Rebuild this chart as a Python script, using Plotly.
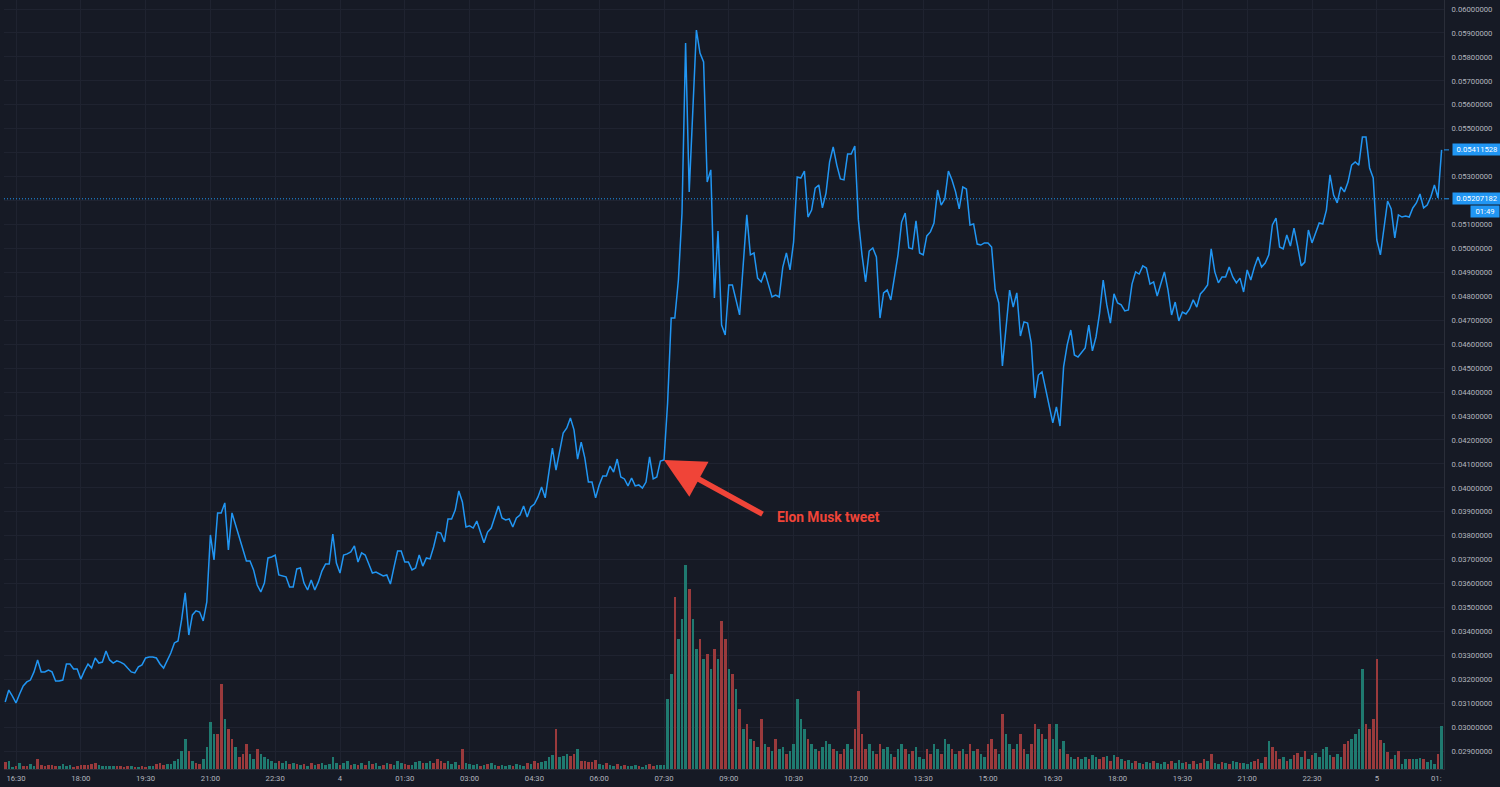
import pandas as pd
import plotly.graph_objects as go

# ---- data -------------------------------------------------------------
start_time = "2021-02-03 16:15"
bar_minutes = 5

close = [
    0.03105, 0.03155, 0.03130, 0.03101, 0.03139, 0.03172, 0.03189, 0.03197, 0.03231, 0.03281,
    0.03231, 0.03231, 0.03239, 0.03231, 0.03193, 0.03193, 0.03197, 0.03264, 0.03264, 0.03243,
    0.03243, 0.03201, 0.03235, 0.03264, 0.03247, 0.03289, 0.03268, 0.03272, 0.03318, 0.03281,
    0.03268, 0.03277, 0.03272, 0.03264, 0.03247, 0.03231, 0.03227, 0.03252, 0.03260, 0.03289,
    0.03293, 0.03293, 0.03289, 0.03264, 0.03247, 0.03281, 0.03310, 0.03352, 0.03360, 0.03448,
    0.03561, 0.03385, 0.03469, 0.03486, 0.03481, 0.03444, 0.03523, 0.03803, 0.03699, 0.03895,
    0.03895, 0.03937, 0.03740, 0.03895, 0.03845, 0.03799, 0.03753, 0.03694, 0.03694, 0.03657,
    0.03594, 0.03565, 0.03602, 0.03707, 0.03711, 0.03719, 0.03636, 0.03632, 0.03628, 0.03586,
    0.03586, 0.03661, 0.03665, 0.03602, 0.03573, 0.03615, 0.03573, 0.03607, 0.03653, 0.03682,
    0.03682, 0.03807, 0.03686, 0.03644, 0.03719, 0.03724, 0.03732, 0.03757, 0.03690, 0.03728,
    0.03719, 0.03682, 0.03644, 0.03648, 0.03640, 0.03632, 0.03636, 0.03598, 0.03669, 0.03736,
    0.03736, 0.03690, 0.03690, 0.03657, 0.03665, 0.03719, 0.03673, 0.03707, 0.03703, 0.03753,
    0.03815, 0.03811, 0.03774, 0.03870, 0.03870, 0.03907, 0.03987, 0.03941, 0.03836, 0.03841,
    0.03832, 0.03861, 0.03815, 0.03770, 0.03815, 0.03832, 0.03878, 0.03924, 0.03874, 0.03866,
    0.03870, 0.03836, 0.03874, 0.03886, 0.03924, 0.03878, 0.03920, 0.03932, 0.03962, 0.04003,
    0.03958, 0.04074, 0.04166, 0.04074, 0.04150, 0.04229, 0.04250, 0.04292, 0.04242, 0.04120,
    0.04191, 0.04125, 0.04024, 0.04024, 0.03958, 0.04012, 0.04049, 0.04049, 0.04091, 0.04066,
    0.04120, 0.04045, 0.04037, 0.04008, 0.04041, 0.04008, 0.04012, 0.03999, 0.04024, 0.04129,
    0.04037, 0.04045, 0.04112, 0.04116, 0.04354, 0.04709, 0.04709, 0.04868, 0.05148, 0.05858,
    0.05236, 0.05566, 0.05912, 0.05816, 0.05779, 0.05277, 0.05328, 0.04793, 0.05073, 0.04680,
    0.04638, 0.04847, 0.04847, 0.04785, 0.04722, 0.04931, 0.05140, 0.04973, 0.04981, 0.04876,
    0.04860, 0.04902, 0.04847, 0.04797, 0.04805, 0.04797, 0.04922, 0.04981, 0.04910, 0.05027,
    0.05298, 0.05294, 0.05323, 0.05131, 0.05160, 0.05252, 0.05265, 0.05169, 0.05231, 0.05361,
    0.05424, 0.05348, 0.05290, 0.05286, 0.05394, 0.05394, 0.05428, 0.05119, 0.04973, 0.04860,
    0.04989, 0.05002, 0.04964, 0.04709, 0.04814, 0.04826, 0.04785, 0.04889, 0.04973, 0.05110,
    0.05148, 0.05002, 0.04998, 0.05115, 0.04981, 0.04973, 0.05052, 0.05069, 0.05106, 0.05244,
    0.05181, 0.05206, 0.05323, 0.05286, 0.05236, 0.05165, 0.05257, 0.05248, 0.05098, 0.05102,
    0.05018, 0.05014, 0.05023, 0.05023, 0.05006, 0.04826, 0.04772, 0.04509, 0.04672, 0.04826,
    0.04755, 0.04814, 0.04634, 0.04693, 0.04688, 0.04605, 0.04375, 0.04471, 0.04484, 0.04417,
    0.04346, 0.04271, 0.04338, 0.04258, 0.04505, 0.04597, 0.04659, 0.04555, 0.04546, 0.04567,
    0.04584, 0.04680, 0.04572, 0.04630, 0.04730, 0.04868, 0.04764, 0.04688, 0.04810, 0.04772,
    0.04764, 0.04739, 0.04743, 0.04851, 0.04902, 0.04893, 0.04927, 0.04918, 0.04851, 0.04860,
    0.04801, 0.04851, 0.04902, 0.04826, 0.04722, 0.04776, 0.04697, 0.04734, 0.04726, 0.04747,
    0.04785, 0.04755, 0.04810, 0.04826, 0.04847, 0.04998, 0.04902, 0.04856, 0.04881, 0.04881,
    0.04922, 0.04881, 0.04856, 0.04876, 0.04818, 0.04910, 0.04868, 0.04922, 0.04964, 0.04922,
    0.04939, 0.04973, 0.05098, 0.05127, 0.05006, 0.04998, 0.05056, 0.05010, 0.05085, 0.05010,
    0.04927, 0.04943, 0.05077, 0.05023, 0.05064, 0.05106, 0.05102, 0.05160, 0.05307, 0.05223,
    0.05190, 0.05257, 0.05236, 0.05277, 0.05348, 0.05361, 0.05348, 0.05465, 0.05465, 0.05336,
    0.05294, 0.05035, 0.04973, 0.05085, 0.05198, 0.05165, 0.05044, 0.05140, 0.05131, 0.05135,
    0.05131, 0.05169, 0.05190, 0.05227, 0.05169, 0.05181, 0.05215, 0.05265, 0.05211, 0.05411528,
]

# volume per 5-minute bar (estimated, arbitrary units) and bar direction (g = up, r = down)
volume = [
    7, 8, 2, 3, 6, 3, 3, 5, 3, 10,
    4, 3, 4, 4, 3, 3, 5, 3, 4, 2,
    3, 4, 4, 4, 5, 6, 4, 3, 3, 3,
    3, 3, 3, 2, 3, 3, 2, 2, 3, 2,
    3, 3, 5, 6, 4, 5, 5, 8, 10, 18,
    30, 18, 8, 6, 5, 10, 22, 47, 35, 35,
    85, 50, 40, 30, 22, 12, 15, 25, 15, 10,
    20, 15, 12, 10, 8, 6, 8, 6, 8, 5,
    6, 5, 4, 5, 3, 6, 4, 5, 6, 4,
    5, 12, 6, 4, 6, 8, 4, 5, 4, 6,
    4, 8, 5, 6, 3, 4, 6, 5, 4, 8,
    6, 5, 4, 4, 7, 8, 6, 6, 8, 6,
    10, 8, 6, 8, 5, 7, 4, 20, 6, 5,
    4, 5, 3, 4, 5, 6, 4, 3, 4, 3,
    4, 3, 5, 4, 3, 6, 5, 8, 6, 7,
    8, 12, 14, 40, 12, 13, 15, 13, 15, 20,
    8, 8, 7, 7, 9, 5, 4, 6, 4, 3,
    5, 3, 4, 3, 3, 4, 3, 2, 4, 5,
    3, 4, 4, 4, 70, 95, 172, 130, 150, 204,
    180, 150, 120, 130, 110, 115, 100, 120, 110, 148,
    130, 100, 95, 80, 60, 40, 45, 30, 28, 22,
    50, 25, 22, 18, 30, 20, 22, 15, 18, 25,
    70, 50, 40, 30, 25, 20, 18, 22, 28, 25,
    20, 18, 15, 20, 25, 20, 40, 78, 35, 20,
    25, 18, 15, 25, 20, 22, 15, 12, 20, 25,
    20, 15, 18, 22, 12, 10, 20, 15, 25, 20,
    15, 30, 25, 20, 15, 18, 20, 15, 25, 18,
    20, 15, 12, 25, 30, 20, 15, 55, 35, 25,
    20, 25, 35, 20, 15, 25, 45, 40, 35, 30,
    45, 30, 45, 20, 28, 15, 12, 10, 12, 10,
    12, 10, 14, 12, 10, 12, 13, 8, 14, 12,
    10, 8, 9, 6, 8, 6, 5, 7, 6, 8,
    6, 5, 7, 5, 8, 6, 9, 6, 7, 5,
    8, 5, 6, 10, 8, 15, 6, 5, 7, 6,
    5, 8, 7, 6, 6, 5, 7, 8, 10, 6,
    12, 28, 22, 18, 10, 12, 8, 10, 14, 16,
    12, 18, 10, 14, 16, 12, 20, 22, 14, 12,
    15, 12, 25, 28, 30, 35, 40, 100, 45, 40,
    50, 110, 29, 26, 17, 10, 14, 18, 5, 10,
    10, 10, 10, 11, 10, 7, 9, 5, 15, 43,
]
direction = (
    "rggrgrrggr" "rrrrrggggr" "rrrrrrgggg" "grrrrgrgrr" "ggrrrggggg"
    "grgrrggggr" "rgrrgrrrgg" "rgggggrggr" "grgrgrgrgg" "gggrggrgrg"
    "rgrggrgrgg" "grrgggrggr" "rrrgggrrgg" "ggrgrggrgg" "grgggrgrrg"
    "gggrgggrrg" "rrrrrggrgg" "rgrgggrggr" "rgggggrggg" "rggrgrgrgr"
    "rgrgrgrgrg" "rgrgrggrgg" "gggrggrggg" "rgrrggrrrr" "ggrrgggrgg"
    "rgrgggrrgg" "rggrgrgrrg" "rggrrrgrgg" "rgrrgrrgrg" "rggrgrggrg"
    "grggrrgrgr" "grggrgrggr" "gggrrgggrg" "rgrrgrggrg" "rggrgggrrg"
    "rgrrrgrgrr" "grgrgggggr" "ggrrggggrr" "rrrgrrgrgg" "rgggrgggrg"
)

tick_times = [
    "2021-02-03 16:30", "2021-02-03 18:00", "2021-02-03 19:30", "2021-02-03 21:00",
    "2021-02-03 22:30", "2021-02-04 00:00", "2021-02-04 01:30", "2021-02-04 03:00",
    "2021-02-04 04:30", "2021-02-04 06:00", "2021-02-04 07:30", "2021-02-04 09:00",
    "2021-02-04 10:30", "2021-02-04 12:00", "2021-02-04 13:30", "2021-02-04 15:00",
    "2021-02-04 16:30", "2021-02-04 18:00", "2021-02-04 19:30", "2021-02-04 21:00",
    "2021-02-04 22:30", "2021-02-05 00:00",
]
tick_labels = [
    "16:30", "18:00", "19:30", "21:00", "22:30", "4", "01:30", "03:00", "04:30", "06:00",
    "07:30", "09:00", "10:30", "12:00", "13:30", "15:00", "16:30", "18:00", "19:30", "21:00",
    "22:30", "5",
]
price_ticks = [
    0.029, 0.030, 0.031, 0.032, 0.033, 0.034, 0.035, 0.036, 0.037, 0.038, 0.039,
    0.040, 0.041, 0.042, 0.043, 0.044, 0.045, 0.046, 0.047, 0.048, 0.049, 0.050,
    0.051, 0.052, 0.053, 0.054, 0.055, 0.056, 0.057, 0.058, 0.059, 0.060,
]
hidden_price_ticks = [0.052, 0.054]   # covered by the price markers

last_price = 0.05411528
ref_price = 0.05207182
countdown = "01:49"
tweet_bar = 183
tweet_label = "Elon Musk tweet"
last_time_label = "01:"

x_range = ["2021-02-03 16:13:20", "2021-02-05 01:33:20"]
y_range = [0.028254, 0.060376]

# ---- styling ------------------------------------------------------------
BG = "#161a25"
GRID = "#1f2330"
TXT = "#b2b5be"
BLUE = "#2196f3"
RED = "#f04438"
VOL_UP = "#1f7a70"
VOL_DOWN = "#9a3a3c"
FONT = "Roboto"
FS = 7.7

times = pd.date_range(start_time, periods=len(close), freq=f"{bar_minutes}min")
vol_colors = [VOL_UP if d == "g" else VOL_DOWN for d in direction]
price_text = ["" if p in hidden_price_ticks else f"{p:.8f}" for p in price_ticks]

fig = go.Figure()
fig.add_trace(go.Bar(
    x=times, y=volume, marker=dict(color=vol_colors, line=dict(width=0)),
    width=bar_minutes * 60 * 1000 * 0.72, yaxis="y2", hoverinfo="skip", showlegend=False,
))
fig.add_trace(go.Scatter(
    x=times, y=close, mode="lines",
    line=dict(color=BLUE, width=1.5), hoverinfo="skip", showlegend=False,
))

fig.update_layout(
    width=1500, height=787,
    margin=dict(l=4, r=56, t=0, b=18),
    paper_bgcolor=BG, plot_bgcolor=BG,
    font=dict(family=FONT, size=FS, color=TXT),
    showlegend=False, bargap=0,
    xaxis=dict(
        range=x_range, tickmode="array", tickvals=tick_times, ticktext=tick_labels,
        showgrid=True, gridcolor=GRID, gridwidth=1, zeroline=False,
        showline=True, linecolor="#2a2e39", linewidth=1, mirror=False,
        ticks="", tickfont=dict(size=FS, color=TXT), ticklabelstandoff=2,
    ),
    yaxis=dict(
        side="right", range=y_range, tickmode="array", tickvals=price_ticks,
        ticktext=price_text, showgrid=True, gridcolor=GRID, gridwidth=1, zeroline=False,
        showline=True, linecolor="#2a2e39", linewidth=1,
        ticks="", tickfont=dict(size=FS, color=TXT), ticklabelstandoff=5,
    ),
    yaxis2=dict(
        overlaying="y", side="left", range=[0, max(volume) * 769 / 204],
        visible=False, showgrid=False, zeroline=False,
    ),
)

# reference dotted price line
fig.add_shape(type="line", xref="paper", x0=0, x1=1, yref="y", y0=ref_price, y1=ref_price,
              line=dict(color=BLUE, width=1, dash="1px,2px"))

# price scale markers
for price in (last_price, ref_price):
    fig.add_shape(type="line", xref="paper", x0=1, x1=1 + 5 / 1440, yref="y", y0=price, y1=price,
                  line=dict(color=BLUE, width=1))
    fig.add_annotation(xref="paper", x=1, xshift=8, xanchor="left", yref="y", y=price,
                       text=f"{price:.8f}", showarrow=False, bgcolor=BLUE, borderpad=1, width=46,
                       font=dict(family=FONT, size=FS, color="#ffffff"))
fig.add_annotation(xref="paper", x=1, xshift=26, xanchor="left", yref="y", y=ref_price,
                   yshift=-13, text=countdown, showarrow=False, bgcolor=BLUE, borderpad=1,
                   width=26, font=dict(family=FONT, size=FS, color="#ffffff"))

# clipped last time label
fig.add_annotation(xref="paper", x=1, xanchor="right", yref="paper", y=0, yanchor="top",
                   yshift=-3, text=last_time_label, showarrow=False,
                   font=dict(family=FONT, size=FS, color=TXT))

# tweet arrow + label
fig.add_annotation(x=times[tweet_bar], y=close[tweet_bar], text="", showarrow=True,
                   arrowhead=2, arrowsize=1.45, arrowwidth=5.5, arrowcolor=RED,
                   ax=100, ay=55, standoff=0)
fig.add_annotation(x=times[tweet_bar], y=close[tweet_bar], text=tweet_label, showarrow=False,
                   xanchor="left", xshift=111, yshift=-57,
                   font=dict(family=FONT, size=13.8, color=RED, weight=700))

fig.write_html("out.html")
